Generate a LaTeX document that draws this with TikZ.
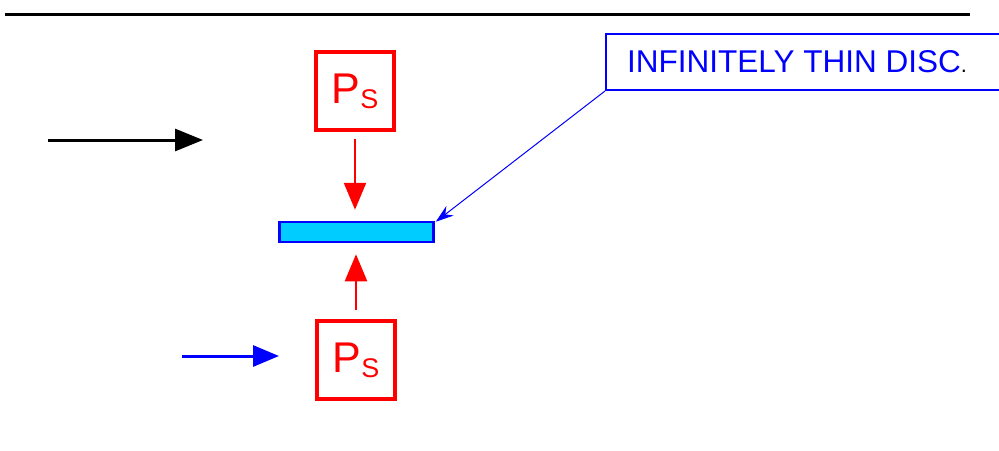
\documentclass[tikz,border=0pt]{standalone}
\usepackage{fontspec}
\setmainfont{Liberation Sans}
\usetikzlibrary{arrows.meta}
\definecolor{pred}{RGB}{255,0,0}
\definecolor{pblue}{RGB}{0,0,255}
\definecolor{pcyan}{RGB}{0,204,255}
\tikzset{
  psbox/.style={draw=pred, line width=3.5pt, minimum width=78pt, minimum height=78pt, inner sep=0pt, text=pred},
  redarrow/.style={draw=pred, line width=2.5pt, -{Triangle[length=27pt,width=22pt]}},
}
\newcommand{\psLabel}{{\fontsize{43}{43}\selectfont P}\raisebox{-5pt}{\fontsize{27}{27}\selectfont S}}
\begin{document}
\begin{tikzpicture}[x=1pt,y=-1pt]
\useasboundingbox (0,0) rectangle (999,450);
% top rule
\coordinate (t1) at (5,14);
\coordinate (t2) at (970,14);
\draw[line width=3pt] (t1) -- (t2);
% boxes
\node[psbox] (ps1) at (355,91) {\psLabel};
\node[psbox] (ps2) at (356,360) {\psLabel};
% disc
\node[draw=pblue, fill=pcyan, line width=2.5pt, minimum width=154pt, minimum height=20pt, inner sep=0pt] (disc) at (356.5,232) {};
% red arrows
\draw[redarrow, shorten <=7pt, shorten >=11pt] (ps1.south) -- (ps1.south |- disc.north);
\draw[redarrow, shorten <=9pt, shorten >=11pt] (ps2.north) -- (ps2.north |- disc.south);
% black arrow
\coordinate (k1) at (48,140);
\coordinate (k2) at (203,140);
\draw[line width=3pt, -{Triangle[length=28pt,width=22pt]}] (k1) -- (k2);
% blue arrow
\coordinate (b1) at (182,356);
\coordinate (b2) at (279,356);
\draw[draw=pblue, line width=3pt, -{Triangle[length=26pt,width=21pt]}] (b1) -- (b2);
% label
\node[draw=pblue, line width=2pt, anchor=south west, minimum height=56pt, minimum width=450pt, inner sep=0pt] (lab) at (605,91) {};
\node[anchor=west, inner sep=0pt, text=pblue, font=\fontsize{31.5}{31.5}\selectfont] (labt) at ([xshift=22pt]lab.west)
  {INFINITELY THIN DISC\textcolor{black}{\fontsize{22}{22}\selectfont .}};
\draw[draw=pblue, line width=1pt, -{Stealth[length=18pt,width=12pt,inset=6pt]}] (lab.south west) -- ([xshift=1pt,yshift=-1pt]disc.north east);
\end{tikzpicture}
\end{document}
